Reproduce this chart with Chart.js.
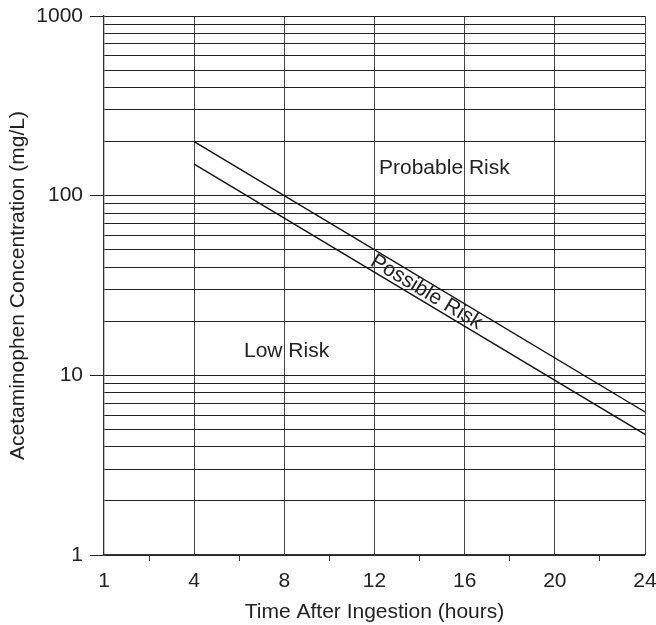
<!DOCTYPE html>
<html>
<head>
<meta charset="utf-8">
<script src="https://cdn.jsdelivr.net/npm/chart.js@4/dist/chart.umd.min.js"></script>
<style>
html,body{margin:0;padding:0;background:#fff;}
#wrap{width:656px;height:625px;}
</style>
</head>
<body>
<div id="wrap"><canvas id="c" width="656" height="625"></canvas></div>
<script>
// Data
const lineHours = [4, 24];
const probableLine = [200, 6.25];
const possibleLine = [150, 4.69];
const xTickValues = [0, 2, 4, 6, 8, 10, 12, 14, 16, 18, 20, 22, 24];
const xTickLabels = ['1', '', '4', '', '8', '', '12', '', '16', '', '20', '', '24'];
const yTickValues = [1,2,3,4,5,6,7,8,9,10,20,30,40,50,60,70,80,90,100,200,300,400,500,600,700,800,900,1000];
const yTickLabels = ['1','10','100','1000'];
const regionNames = ['Probable Risk', 'Possible Risk', 'Low Risk'];
const regionHours = [15.1, 14.3, 8.1];
const regionConc = [143, 29, 13.6];

const FONT = "'Liberation Sans', Arial, Helvetica, sans-serif";
const FS = 21;
const TXT = '#222';

const isPow10 = v => yTickLabels.includes(String(v));

const labelPlugin = {
  id: 'regionLabels',
  afterDatasetsDraw(chart) {
    const ctx = chart.ctx, xs = chart.scales.x, ys = chart.scales.y;
    const ang = Math.atan2(ys.getPixelForValue(probableLine[1]) - ys.getPixelForValue(probableLine[0]),
                           xs.getPixelForValue(lineHours[1]) - xs.getPixelForValue(lineHours[0]));
    ctx.save();
    ctx.fillStyle = TXT;
    ctx.font = FS + 'px ' + FONT;
    ctx.textAlign = 'center';
    ctx.textBaseline = 'middle';
    regionNames.forEach((name, i) => {
      const px = xs.getPixelForValue(regionHours[i]);
      const py = ys.getPixelForValue(regionConc[i]);
      ctx.save();
      ctx.translate(px, py);
      if (name === 'Possible Risk') ctx.rotate(ang);
      ctx.fillText(name, 0, 0);
      ctx.restore();
    });
    ctx.restore();
  }
};

new Chart(document.getElementById('c'), {
  type: 'scatter',
  data: {
    datasets: [
      { data: lineHours.map((h, i) => ({x: h, y: probableLine[i]})), showLine: true, borderColor: '#111', borderWidth: 1.4, pointRadius: 0, fill: false },
      { data: lineHours.map((h, i) => ({x: h, y: possibleLine[i]})), showLine: true, borderColor: '#111', borderWidth: 1.4, pointRadius: 0, fill: false }
    ]
  },
  options: {
    responsive: false,
    animation: false,
    devicePixelRatio: 1,
    layout: { padding: { top: 16, right: 11, left: 0, bottom: 0 } },
    plugins: { legend: { display: false }, tooltip: { enabled: false } },
    scales: {
      x: {
        type: 'linear', min: 0, max: 24,
        afterBuildTicks: s => { s.ticks = xTickValues.map(v => ({value: v})); },
        afterFit: s => { s.height = 70; s.paddingLeft = 0; s.paddingRight = 0; },
        ticks: {
          autoSkip: false, maxRotation: 0, padding: 8,
          color: TXT, font: { family: FONT, size: FS },
          callback: (v, i) => xTickLabels[xTickValues.indexOf(v)] ?? ''
        },
        grid: {
          color: c => (c.tick && c.tick.value % 4 === 0 && c.tick.value > 0) ? '#444' : 'rgba(0,0,0,0)',
          tickColor: c => (c.tick && c.tick.value % 4 !== 0) ? '#333' : 'rgba(0,0,0,0)',
          tickLength: 6, lineWidth: 1
        },
        border: { display: true, color: '#333', width: 1.3 },
        title: { display: true, text: 'Time After Ingestion (hours)', color: TXT, font: { family: FONT, size: FS }, padding: { top: 0, bottom: 0 } }
      },
      y: {
        type: 'logarithmic', min: 1, max: 1000,
        afterBuildTicks: s => { s.ticks = yTickValues.map(v => ({value: v, major: isPow10(v)})); },
        afterFit: s => { s.width = 104; s.paddingTop = 0; s.paddingBottom = 0; },
        ticks: {
          autoSkip: false, padding: 7,
          color: TXT, font: { family: FONT, size: FS },
          callback: v => isPow10(v) ? String(v) : ''
        },
        grid: {
          color: '#222',
          tickColor: c => (c.tick && isPow10(c.tick.value)) ? '#222' : 'rgba(0,0,0,0)',
          tickLength: 14, lineWidth: 1
        },
        border: { display: true, color: '#333', width: 1.3 },
        title: { display: true, text: 'Acetaminophen Concentration (mg/L)', color: TXT, font: { family: FONT, size: FS }, padding: { top: 6, bottom: 0 } }
      }
    }
  },
  plugins: [labelPlugin]
});
</script>
</body>
</html>
